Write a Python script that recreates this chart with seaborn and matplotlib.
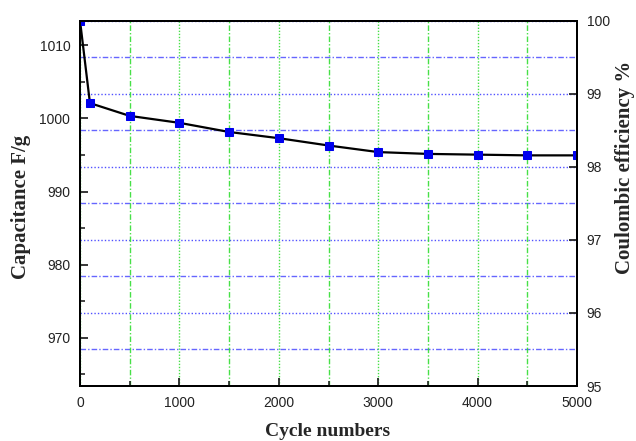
import numpy as np
import pandas as pd
import seaborn as sns
import matplotlib.pyplot as plt
from matplotlib.ticker import MultipleLocator

# values
cycles = [0, 100, 500, 1000, 1500, 2000, 2500, 3000, 3500, 4000, 4500, 5000]
capacitance = [1013.4, 1002.1, 1000.35, 999.4, 998.15, 997.3, 996.3, 995.4, 995.15, 995.05, 994.95, 994.95]

x_ticks = [0, 1000, 2000, 3000, 4000, 5000]
left_ticks = [970, 980, 990, 1000, 1010]
right_ticks = [95, 96, 97, 98, 99, 100]

df = pd.DataFrame({'cycle': cycles, 'cap': capacitance})

sns.set_style('ticks')
plt.rcParams['font.family'] = ['Liberation Sans', 'DejaVu Sans']

fig = plt.figure(figsize=(6.36, 4.41), dpi=100)
ax = fig.add_axes([80 / 636, 1 - 386 / 441, (577 - 80) / 636, (386 - 20.5) / 441])
ax2 = ax.twinx()

# horizontal grid belongs to the right (efficiency) axis
ax2.set_ylim(95, 100)
ax2.set_yticks(right_ticks)
ax2.yaxis.set_minor_locator(MultipleLocator(0.5))
ax2.grid(which='major', axis='y', color='#3333ff', linestyle=(0, (1, 1.5)), linewidth=1.0, alpha=0.85)
ax2.grid(which='minor', axis='y', color='#3333ff', linestyle=(0, (4, 1.5, 1, 1.5)), linewidth=1.0, alpha=0.75)
ax2.tick_params(axis='y', which='major', direction='in', length=6, width=1.3, pad=7,
                labelsize=10, labelcolor='#222222')
ax2.tick_params(axis='y', which='minor', length=0)

ax.set_zorder(ax2.get_zorder() + 1)
ax.patch.set_visible(False)

sns.lineplot(data=df, x='cycle', y='cap', ax=ax, color='black', linewidth=1.6,
             marker='s', markersize=6, markerfacecolor='#0000ee', markeredgecolor='#0000ee')

ax.set_xlim(0, 5000)
ax.set_ylim(963.4, 1013.4)
ax.set_xticks(x_ticks)
ax.set_yticks(left_ticks)
ax.xaxis.set_minor_locator(MultipleLocator(500))
ax.yaxis.set_minor_locator(MultipleLocator(5))
ax.grid(which='major', axis='x', color='#33dd33', linestyle=(0, (1, 1.2)), linewidth=1.0, alpha=0.9)
ax.grid(which='minor', axis='x', color='#33dd33', linestyle=(0, (4, 1.5, 1, 1.5)), linewidth=1.0, alpha=0.9)
ax.tick_params(axis='both', which='major', direction='in', length=6, width=1.3,
               labelsize=10, labelcolor='#222222')
ax.tick_params(axis='x', which='major', pad=7)
ax.tick_params(axis='y', which='major', pad=7)
ax.tick_params(axis='both', which='minor', direction='in', length=3.5, width=1.2)
ax.tick_params(top=False, right=False, which='both')
ax.set_xlabel('')
ax.set_ylabel('')

for a in (ax, ax2):
    for s in a.spines.values():
        s.set_visible(True)
        s.set_color('black')
        s.set_linewidth(1.4)

serif = ['Liberation Serif', 'DejaVu Serif']
fig.text(328 / 636, 1 - 432 / 441, 'Cycle numbers', family=serif, fontweight='bold',
         fontsize=14, ha='center', va='center')
fig.text(21 / 636, 1 - 207 / 441, 'Capacitance F/g', family=serif, fontweight='bold',
         fontsize=15, ha='center', va='center', rotation=90)
fig.text(625 / 636, 1 - 167 / 441, 'Coulombic efficiency %', family=serif, fontweight='bold',
         fontsize=15, ha='center', va='center', rotation=90)

fig.savefig('out.png', dpi=100)
